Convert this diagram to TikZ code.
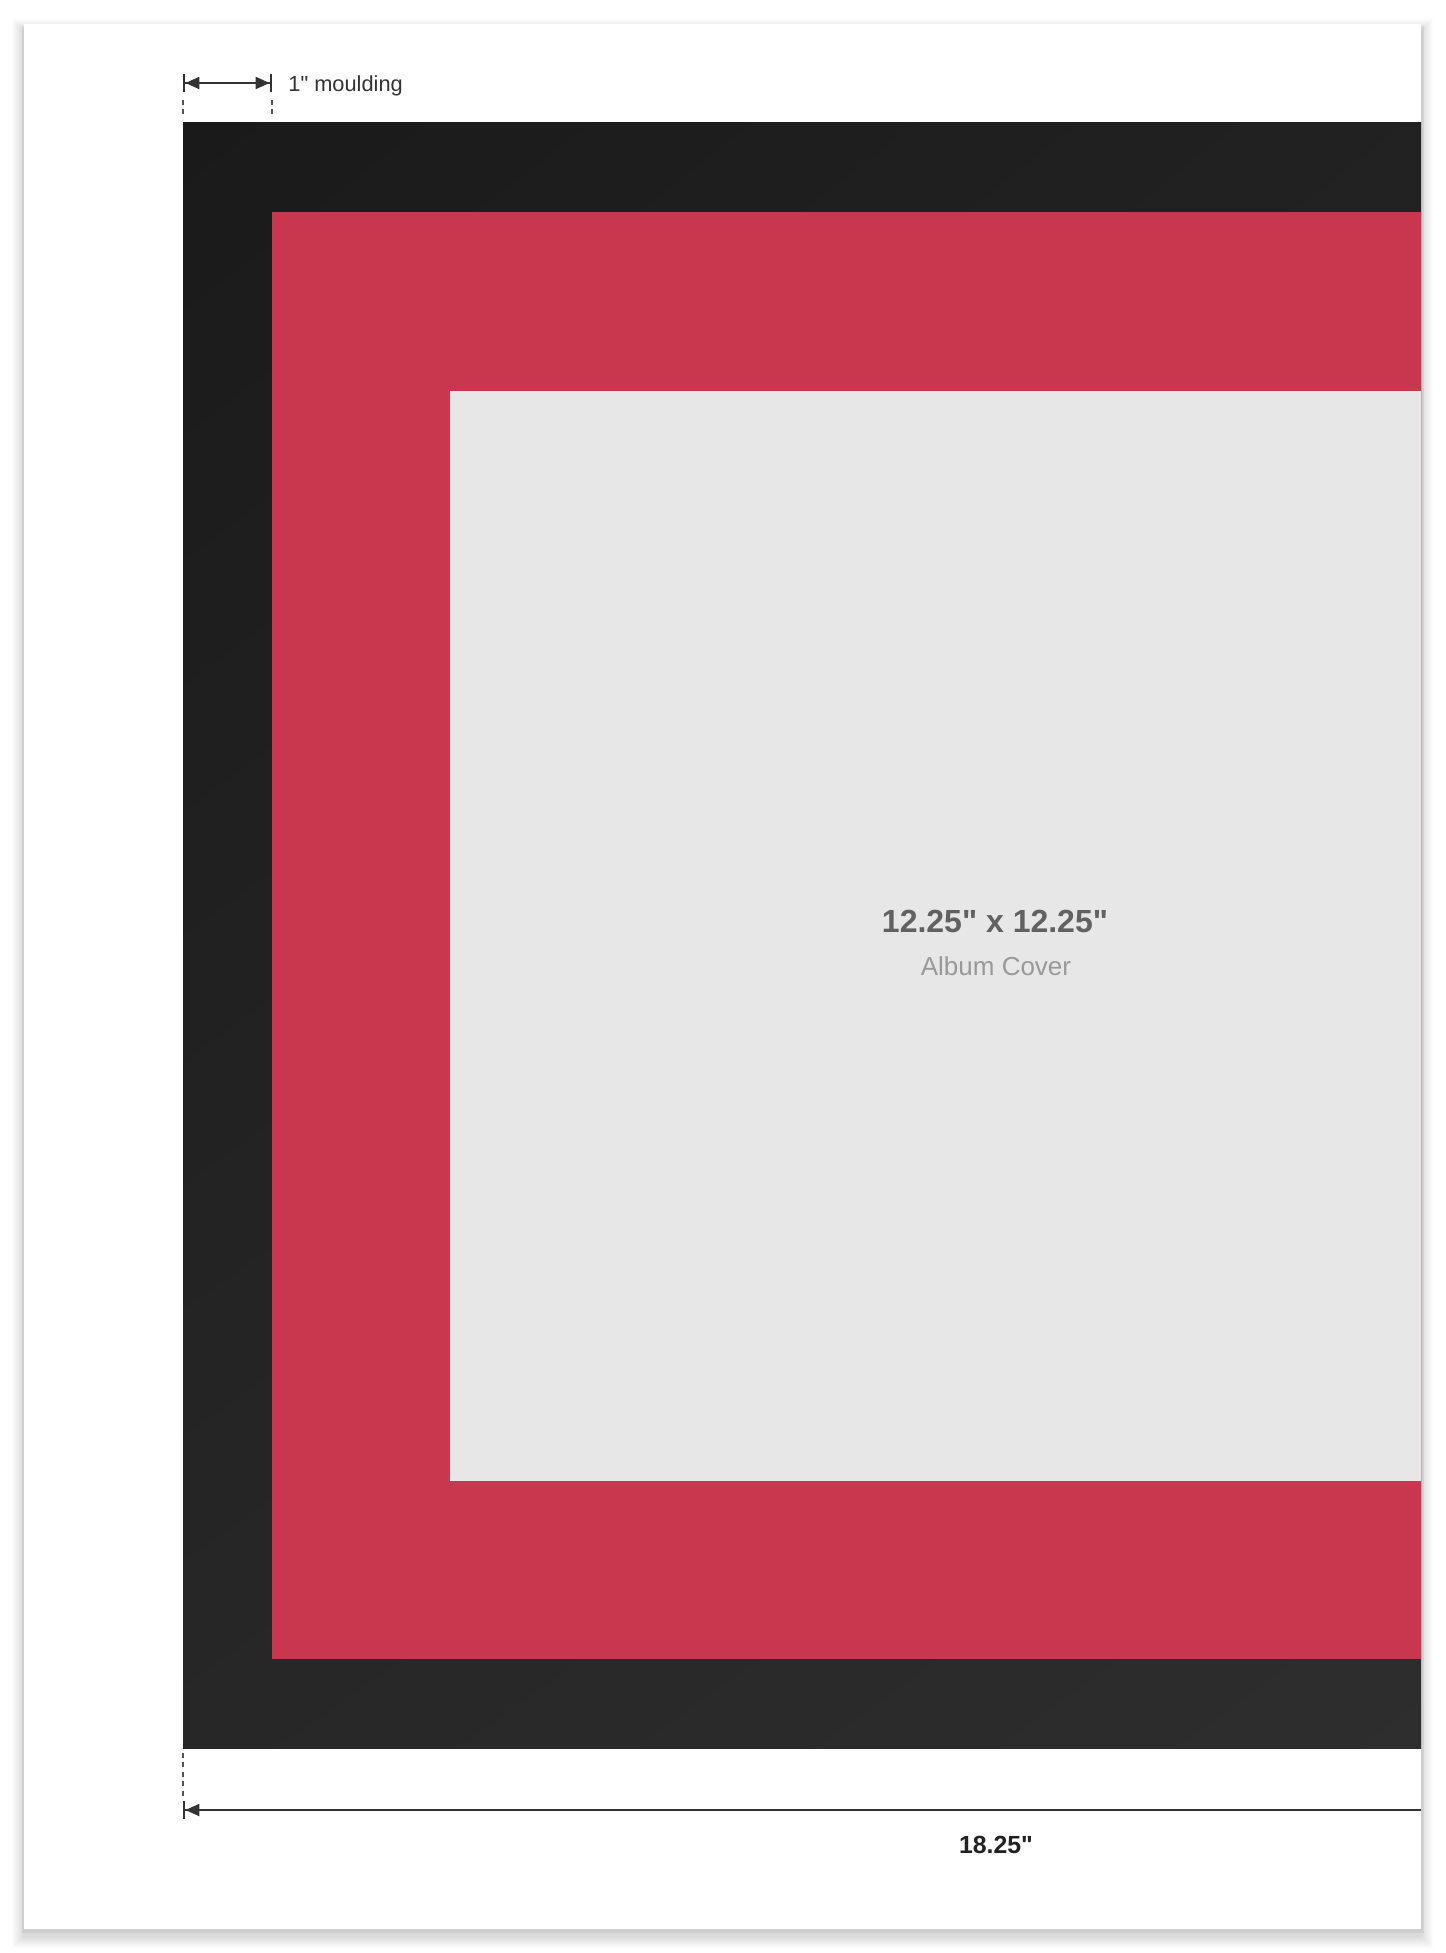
\documentclass[tikz,border=0pt]{standalone}
\usepackage{fontspec}
\setmainfont{Liberation Sans}[Ligatures=TeXOff]
\usetikzlibrary{arrows.meta,shadings}
\definecolor{matred}{HTML}{C9374E}
\definecolor{covergrey}{HTML}{E7E7E7}
\definecolor{frameUL}{HTML}{1A1A1A}
\definecolor{frameUR}{HTML}{242424}
\definecolor{frameLL}{HTML}{272727}
\definecolor{frameLR}{HTML}{303030}
\definecolor{dimcol}{HTML}{333333}
\definecolor{titlecol}{HTML}{616161}
\definecolor{subcol}{HTML}{999999}
\tikzset{
  dimline/.style={draw=dimcol, line width=1pt,
    {Bar[width=9pt,line width=1.2pt]Triangle[length=7pt,width=6pt]}-{Triangle[length=7pt,width=6pt]Bar[width=9pt,line width=1.2pt]}},
  guide/.style={draw=dimcol!85, line width=0.7pt, dash pattern=on 2.5pt off 2.2pt},
  lbl/.style={inner sep=0pt, anchor=base},
}
\begin{document}
\begin{tikzpicture}[x=0.5pt,y=-0.5pt]
\useasboundingbox (0,0) rectangle (1445,1953);
\fill[white] (0,0) rectangle (1445,1953);
% card shadow
\foreach \i in {1,...,12}
  \fill[black,opacity=0.013] (24-\i,24-\i+7) rectangle (1421+\i,1929+\i+7);
\fill[black,opacity=0.06] (22,26) rectangle (1424,1933);
% card
\node[fill=white, inner sep=0pt, minimum width=698.5pt, minimum height=952.5pt, anchor=north west] (card) at (24,24) {};
\begin{scope}
\clip (24,24) rectangle (1421,1929);
\shade[upper left=frameUL, upper right=frameUR, lower left=frameLL, lower right=frameLR] (183,123) rectangle (1807,1748);
\fill[matred] (272,212) rectangle (1718,1659);
\node[fill=covergrey, inner sep=0pt, minimum width=545pt, minimum height=545pt, anchor=north west] (cover) at (450,391) {};
\coordinate (w1) at (183,1810);
\coordinate (w2) at (1807,1810);
\draw[dimline] (w1) -- (w2);
\end{scope}
% top dimension
\coordinate (m1) at (183,83);
\coordinate (m2) at (272,83);
\draw[dimline] (m1) -- (m2);
\coordinate (g1a) at (183,100); \coordinate (g1b) at (183,118);
\coordinate (g2a) at (272,100); \coordinate (g2b) at (272,118);
\coordinate (g3a) at (183,1753); \coordinate (g3b) at (183,1797);
\draw[guide] (g1a) -- (g1b);
\draw[guide] (g2a) -- (g2b);
\draw[guide] (g3a) -- (g3b);
% labels
\node[lbl, anchor=base west, text=dimcol, font=\fontsize{10.9pt}{12pt}\selectfont] (mlabel) at (288,92) {1" moulding};
\node[lbl, text=titlecol, font=\fontsize{16pt}{19pt}\selectfont\bfseries] (title) at (995,932) {12.25" x 12.25"};
\node[lbl, text=subcol, font=\fontsize{13pt}{15pt}\selectfont] (sub) at (996,975) {Album Cover};
\node[lbl, text=black!87, font=\fontsize{12.4pt}{14pt}\selectfont\bfseries] (wlabel) at (996,1853) {18.25"};
\end{tikzpicture}
\end{document}
